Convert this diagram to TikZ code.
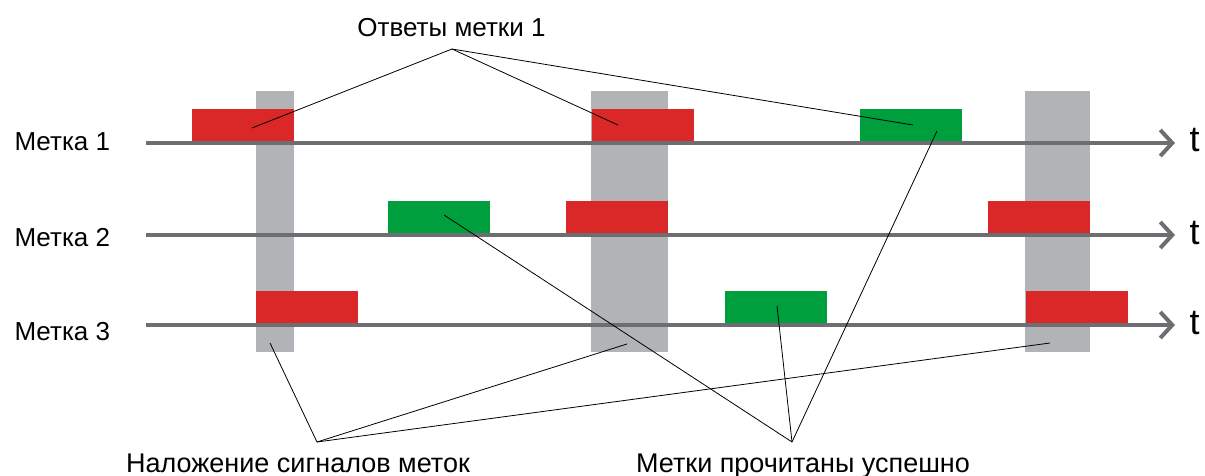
\documentclass[tikz,border=0pt]{standalone}
\usepackage{fontspec}
\setmainfont{Liberation Sans}
\usetikzlibrary{arrows.meta}

\definecolor{otklik}{HTML}{DA2727}
\definecolor{uspeh}{HTML}{009F3D}
\definecolor{kollizia}{HTML}{B2B3B7}
\definecolor{os}{HTML}{6D6E71}

\begin{document}
\begin{tikzpicture}[x=1pt, y=-1pt,
        every node/.style={font=\fontsize{26}{30}\selectfont},
        otvet/.style={fill=otklik, inner sep=0, minimum width=102pt, minimum height=34pt},
        uspeshno/.style={fill=uspeh, inner sep=0, minimum width=102pt, minimum height=34pt},
        polosa/.style={fill=kollizia, inner sep=0, minimum height=261pt},
        vremya/.style={draw=os, line width=4pt, -{Straight Barb[length=12pt, width=26pt, line width=4pt]}},
        bukvaT/.style={font=\fontsize{36}{40}\selectfont, anchor=base west},
        vynoska/.style={draw=black, line width=0.8pt}
    ]
    \useasboundingbox (0,0) rectangle (1205,476);

    % Kollizii
    \node[polosa, minimum width=38pt] (kol1) at (275,221.5) {};
    \node[polosa, minimum width=77pt] (kol2) at (629.5,221.5) {};
    \node[polosa, minimum width=65pt] (kol3) at (1057.5,221.5) {};

    % Metka 1
    \node[otvet] (m1a) at (242.5,126) {};
    \node[otvet] (m1b) at (642.5,126) {};
    \node[uspeshno] (m1c) at (911,126) {};

    % Metka 2
    \node[uspeshno] (m2a) at (439,217.5) {};
    \node[otvet] (m2b) at (616.5,217.5) {};
    \node[otvet] (m2c) at (1039,217.5) {};

    % Metka 3
    \node[otvet] (m3a) at (307,308) {};
    \node[uspeshno] (m3b) at (775.5,308) {};
    \node[otvet] (m3c) at (1077,308) {};

    % Osi vremeni
    \node[anchor=base west] (metka1) at (11,151) {Метка 1};
    \node[anchor=base west] (metka2) at (11,246) {Метка 2};
    \node[anchor=base west] (metka3) at (11,340) {Метка 3};
    \node[bukvaT] (t1) at (1186,152) {t};
    \node[bukvaT] (t2) at (1186,244) {t};
    \node[bukvaT] (t3) at (1186,334) {t};
    \coordinate (nach1) at (146,143);
    \coordinate (kon1) at (1175,143);
    \coordinate (nach2) at (146,235);
    \coordinate (kon2) at (1175,235);
    \coordinate (nach3) at (146,325);
    \coordinate (kon3) at (1175,325);
    \draw[vremya] (nach1) -- (kon1);
    \draw[vremya] (nach2) -- (kon2);
    \draw[vremya] (nach3) -- (kon3);

    % Podpisi
    \node[anchor=base] (otvety) at (451.5,37) {Ответы метки 1};
    \node[anchor=base, font=\fontsize{27}{31}\selectfont] (nalozhenie) at (298,472) {Наложение сигналов меток};
    \node[anchor=base, font=\fontsize{27}{31}\selectfont] (prochitany) at (803,472) {Метки прочитаны успешно};
    \coordinate (otvetyV) at (452,49);
    \coordinate (nalozhenieV) at (317,442);
    \coordinate (prochitanyV) at (792,442);

    % Tochki vynosok
    \coordinate (p1a) at (252,128);
    \coordinate (p1b) at (618,125);
    \coordinate (p1c) at (913,125);
    \coordinate (k1) at (270,343);
    \coordinate (k2) at (627,344);
    \coordinate (k3) at (1050,343);
    \coordinate (u2) at (444,215);
    \coordinate (u3) at (777,306);
    \coordinate (u1) at (937,131);

    % Vynoski
    \draw[vynoska] (otvetyV) -- (p1a);
    \draw[vynoska] (otvetyV) -- (p1b);
    \draw[vynoska] (otvetyV) -- (p1c);
    \draw[vynoska] (nalozhenieV) -- (k1);
    \draw[vynoska] (nalozhenieV) -- (k2);
    \draw[vynoska] (nalozhenieV) -- (k3);
    \draw[vynoska] (prochitanyV) -- (u2);
    \draw[vynoska] (prochitanyV) -- (u3);
    \draw[vynoska] (prochitanyV) -- (u1);
\end{tikzpicture}
\end{document}
